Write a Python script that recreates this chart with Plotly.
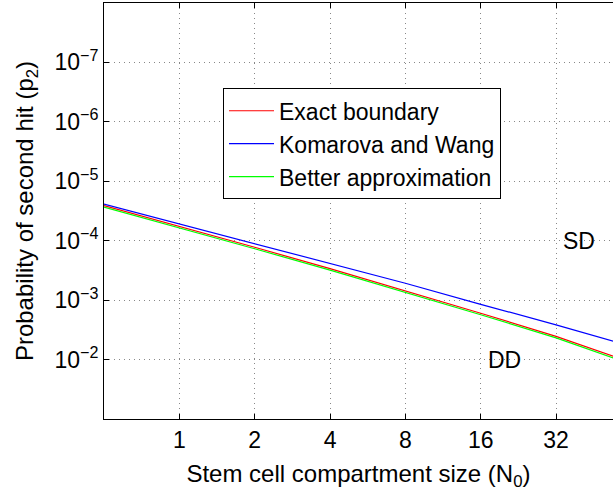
import plotly.graph_objects as go
import math

# Data
N0 = [0.5, 1, 2, 4, 8, 16, 32, 64]
exact_boundary = [2.57e-5, 5.69e-5, 1.288e-4, 2.95e-4, 6.92e-4, 1.66e-3, 4.07e-3, 1.12e-2]
komarova_wang = [2.43e-5, 5.25e-5, 1.12e-4, 2.43e-4, 5.19e-4, 1.175e-3, 2.60e-3, 6.03e-3]
better_approx = [2.72e-5, 6.03e-5, 1.365e-4, 3.13e-4, 7.33e-4, 1.76e-3, 4.32e-3, 1.20e-2]

x_ticks = [1, 2, 4, 8, 16, 32]
x_ticklabels = ["1", "2", "4", "8", "16", "32"]
y_ticks = [1e-7, 1e-6, 1e-5, 1e-4, 1e-3, 1e-2]
y_ticklabels = ["10<sup>−7</sup>", "10<sup>−6</sup>", "10<sup>−5</sup>",
                "10<sup>−4</sup>", "10<sup>−3</sup>", "10<sup>−2</sup>"]

FONT = "Liberation Sans, Arial, sans-serif"
FS = 23
TFS = 24
LFS = 23

fig = go.Figure()
fig.add_trace(go.Scatter(x=N0, y=exact_boundary, mode="lines", name="Exact boundary",
                         line=dict(color="#FF0000", width=1.2)))
fig.add_trace(go.Scatter(x=N0, y=komarova_wang, mode="lines", name="Komarova and Wang",
                         line=dict(color="#0000FF", width=1.2)))
fig.add_trace(go.Scatter(x=N0, y=better_approx, mode="lines", name="Better approximation",
                         line=dict(color="#00FF00", width=1.2)))

fig.add_annotation(x=math.log10(39.7), y=-4, text="SD", showarrow=False,
                   font=dict(size=FS, color="black", family=FONT))
fig.add_annotation(x=math.log10(20), y=-2, text="DD", showarrow=False,
                   font=dict(size=FS, color="black", family=FONT))

fig.update_layout(
    width=613, height=491,
    margin=dict(l=104, r=0, t=3, b=72),
    paper_bgcolor="white", plot_bgcolor="white",
    font=dict(family=FONT, size=FS, color="black"),
    showlegend=True,
    legend=dict(x=0.2338, y=0.795, xanchor="left", yanchor="top",
                bgcolor="white", bordercolor="black", borderwidth=1,
                font=dict(size=LFS, family=FONT), itemwidth=45,
                tracegroupgap=0),
)
fig.update_xaxes(
    type="log", range=[math.log10(0.5), math.log10(0.5 * 2 ** ((613 - 104) / 75.34))],
    tickvals=x_ticks, ticktext=x_ticklabels,
    ticks="inside", ticklen=5, tickcolor="black",
    showline=True, linecolor="black", linewidth=1, mirror="ticks",
    showgrid=True, gridcolor="#888888", griddash="1px,4px", gridwidth=1,
    zeroline=False,
    title=dict(text="Stem cell compartment size (N<sub>0</sub>)", standoff=14,
               font=dict(size=TFS, family=FONT)),
    tickfont=dict(size=FS, family=FONT),
)
fig.update_yaxes(
    type="log", range=[-1, -8],
    tickvals=y_ticks, ticktext=y_ticklabels,
    ticks="inside", ticklen=5, tickcolor="black",
    showline=True, linecolor="black", linewidth=1, mirror=False,
    showgrid=True, gridcolor="#888888", griddash="1px,4px", gridwidth=1,
    zeroline=False,
    title=dict(text="Probability of second hit (p<sub>2</sub>)", standoff=14,
               font=dict(size=TFS, family=FONT)),
    tickfont=dict(size=FS, family=FONT),
)

fig.write_html("out.html")
